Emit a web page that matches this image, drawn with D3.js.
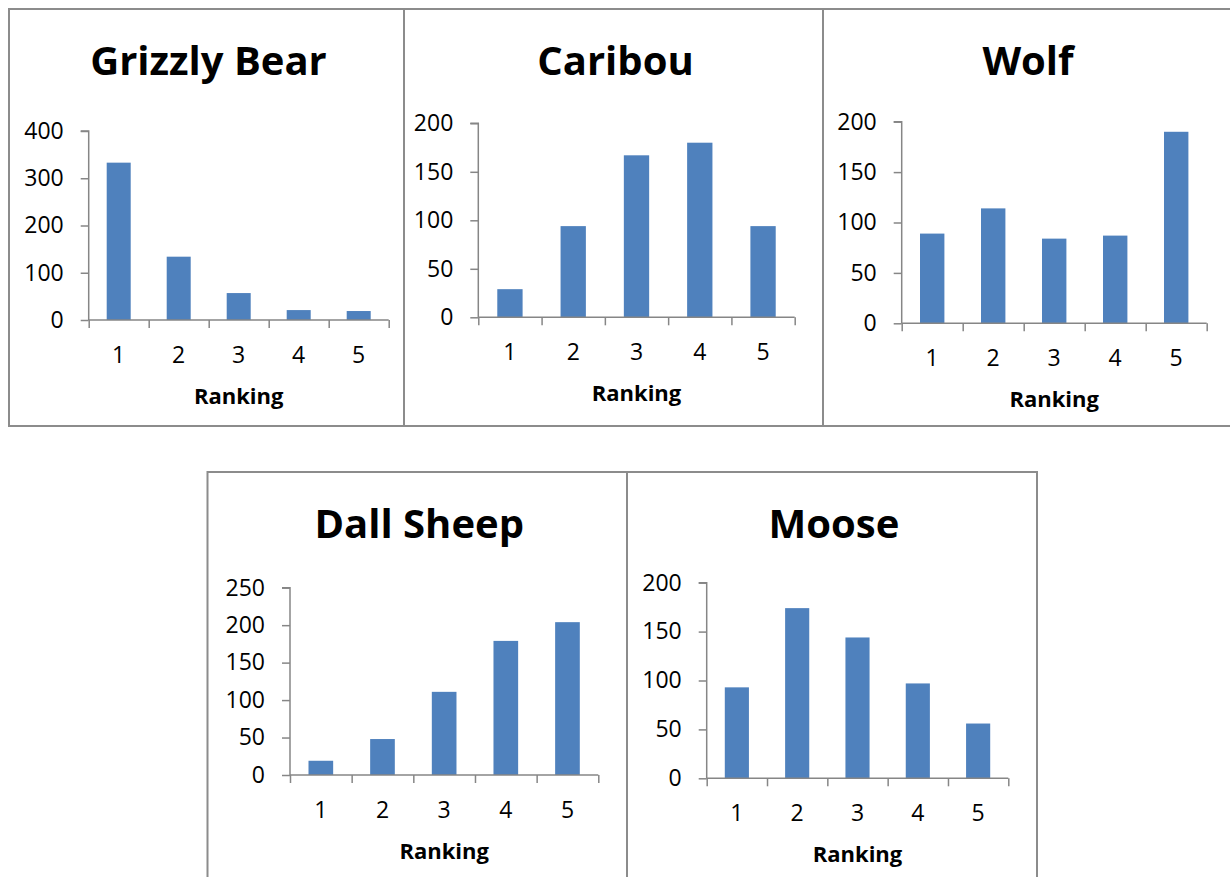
<!DOCTYPE html>
<html>
<head>
<meta charset="utf-8">
<script src="https://cdn.jsdelivr.net/npm/d3@7"></script>
<style>
  html, body { margin: 0; padding: 0; background: #fff; }
  svg { display: block; }
</style>
</head>
<body>
<svg id="chart" width="1230" height="877"></svg>
<script>
// Survey counts per ranking (1–5) for each species
const rankings = ["1", "2", "3", "4", "5"];
const species = ["Grizzly Bear", "Caribou", "Wolf", "Dall Sheep", "Moose"];
const grizzlyBear = [333, 134, 57, 21, 19];
const caribou = [29, 94, 167, 180, 94];
const wolf = [89, 114, 84, 87, 190];
const dallSheep = [19, 48, 111, 179, 204];
const moose = [93, 174, 144, 97, 56];
const yMax = [400, 200, 200, 250, 200];
const yStep = [100, 50, 50, 50, 50];
const xTitle = "Ranking";

const seriesList = [grizzlyBear, caribou, wolf, dallSheep, moose];

// Panel layout: frame box and plot area for each small chart
const layout = [
  { fx0: 9,   fx1: 404,  fy0: 9,   fy1: 426, px0: 88.7,  px1: 388.7,  py0: 320,   py1: 131 },
  { fx0: 404, fx1: 823,  fy0: 9,   fy1: 426, px0: 478.3, px1: 794.7,  py0: 317.3, py1: 123.3 },
  { fx0: 823, fx1: 1240, fy0: 9,   fy1: 426, px0: 901.7, px1: 1206.7, py0: 323.3, py1: 121.7 },
  { fx0: 207.5, fx1: 627, fy0: 472, fy1: 890, px0: 290,  px1: 598.3,  py0: 775,   py1: 587.7 },
  { fx0: 627, fx1: 1037, fy0: 472, fy1: 890, px0: 706.7, px1: 1008.3, py0: 778.3, py1: 582.7 }
];

const FONT = "'Open Sans', 'Liberation Sans', sans-serif";
const AXIS = "#868686";
const BAR = "#4f81bd";
const FRAME = "#8c8c8c";

const svg = d3.select("#chart");

species.forEach((name, i) => {
  const L = layout[i];
  const values = seriesList[i];
  const g = svg.append("g");

  // panel frame
  g.append("rect")
    .attr("x", L.fx0).attr("y", L.fy0)
    .attr("width", L.fx1 - L.fx0).attr("height", L.fy1 - L.fy0)
    .attr("fill", "none").attr("stroke", FRAME).attr("stroke-width", 2);

  const x = d3.scaleBand()
    .domain(rankings)
    .range([L.px0, L.px1])
    .paddingInner(0.6)
    .paddingOuter(0.3);

  const y = d3.scaleLinear()
    .domain([0, yMax[i]])
    .range([L.py0, L.py1]);

  // bars
  g.selectAll("rect.bar")
    .data(values)
    .join("rect")
    .attr("class", "bar")
    .attr("x", (d, k) => x(rankings[k]))
    .attr("width", x.bandwidth())
    .attr("y", d => y(d))
    .attr("height", d => y(0) - y(d))
    .attr("fill", BAR);

  // value axis
  const yAxis = d3.axisLeft(y)
    .tickValues(d3.range(0, yMax[i] + 1, yStep[i]))
    .tickSize(8)
    .tickPadding(17)
    .tickFormat(d3.format("d"));
  const ya = g.append("g")
    .attr("transform", `translate(${L.px0},0)`)
    .call(yAxis);
  ya.select(".domain").attr("stroke", AXIS).attr("stroke-width", 1.5)
    .attr("d", `M-8,${L.py1}H0V${L.py0}`);
  ya.selectAll(".tick line").attr("stroke", AXIS).attr("stroke-width", 1.5);
  ya.selectAll(".tick text")
    .attr("fill", "#000")
    .style("font-family", FONT)
    .style("font-size", "23px");

  // category axis: boundary ticks between bands
  const xb = d3.scaleLinear().domain([0, rankings.length]).range([L.px0, L.px1]);
  const xbAxis = d3.axisBottom(xb)
    .tickValues(d3.range(0, rankings.length + 1))
    .tickSize(8)
    .tickFormat("");
  const xa = g.append("g")
    .attr("transform", `translate(0,${L.py0})`)
    .call(xbAxis);
  xa.select(".domain").attr("stroke", AXIS).attr("stroke-width", 1.5)
    .attr("d", `M${L.px0},0H${L.px1}`);
  xa.selectAll(".tick line").attr("stroke", AXIS).attr("stroke-width", 1.5);

  // category labels centred under each bar
  const xl = d3.axisBottom(x).tickSize(0).tickPadding(0);
  const xla = g.append("g")
    .attr("transform", `translate(0,${L.py0 + 43})`)
    .call(xl);
  xla.select(".domain").remove();
  xla.selectAll(".tick text")
    .attr("y", 0).attr("dy", 0)
    .attr("fill", "#000")
    .style("font-family", FONT)
    .style("font-size", "23px");

  // axis title
  g.append("text")
    .attr("x", (L.px0 + L.px1) / 2)
    .attr("y", L.py0 + 84)
    .attr("text-anchor", "middle")
    .style("font-family", FONT)
    .style("font-size", "22px")
    .style("font-weight", "700")
    .text(xTitle);

  // chart title
  const frameRight = Math.min(L.fx1, 1229);
  g.append("text")
    .attr("x", (L.fx0 + frameRight) / 2 + 2)
    .attr("y", L.fy0 + 66)
    .attr("text-anchor", "middle")
    .style("font-family", FONT)
    .style("font-size", "40px")
    .style("font-weight", "700")
    .text(name);
});
</script>
</body>
</html>
